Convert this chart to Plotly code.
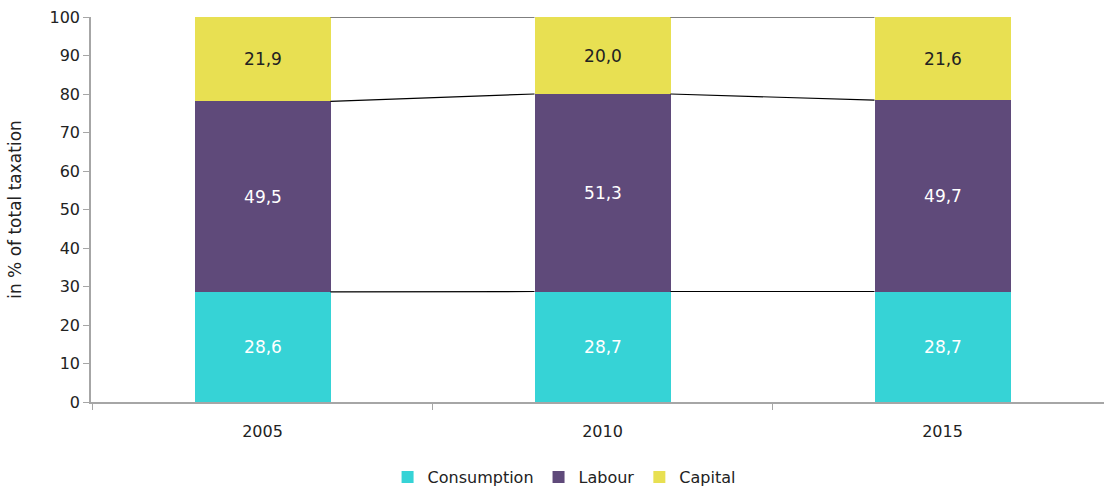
import plotly.graph_objects as go

years = ["2005", "2010", "2015"]
consumption = [28.6, 28.7, 28.7]
labour = [49.5, 51.3, 49.7]
capital = [21.9, 20.0, 21.6]
y_ticks = [0, 10, 20, 30, 40, 50, 60, 70, 80, 90, 100]

colors = {"Consumption": "#36D3D6", "Labour": "#5F4A7A", "Capital": "#E8E052"}
text_colors = {"Consumption": "white", "Labour": "white", "Capital": "#222222"}
FONT = "DejaVu Sans"
BW = 0.4

xs = list(range(len(years)))
fig = go.Figure()
for name, vals in [("Consumption", consumption), ("Labour", labour), ("Capital", capital)]:
    fig.add_trace(go.Bar(
        x=xs, y=vals, name=name, width=BW,
        marker=dict(color=colors[name], line=dict(width=0)),
        text=[f"{v:.1f}".replace(".", ",") for v in vals],
        textposition="inside", insidetextanchor="middle", textangle=0,
        textfont=dict(color=text_colors[name], size=17, family=FONT),
        hoverinfo="skip",
    ))

# series lines between bar tops
levels = []
cum = [0] * len(years)
for vals in (consumption, labour, capital):
    cum = [c + v for c, v in zip(cum, vals)]
    levels.append(list(cum))
for lev in levels:
    for i in range(len(years) - 1):
        fig.add_trace(go.Scatter(
            x=[xs[i] + BW / 2, xs[i + 1] - BW / 2], y=[lev[i], lev[i + 1]],
            mode="lines", line=dict(color="black", width=1.2),
            showlegend=False, hoverinfo="skip",
        ))

r0 = -0.5044
xr = [r0, r0 + 1013 / 340]
fig.update_layout(
    width=1104, height=488,
    margin=dict(l=91, r=0, t=17, b=86, autoexpand=False),
    barmode="stack", bargap=0,
    plot_bgcolor="white", paper_bgcolor="white",
    font=dict(family=FONT, size=16, color="#222222"),
    legend=dict(orientation="h", x=0.467, xanchor="center", y=-0.195, yanchor="middle",
                font=dict(size=16, family=FONT), traceorder="normal",
                itemwidth=30, tracegroupgap=0),
    xaxis=dict(range=xr, tickvals=xs, ticktext=years, ticks="", showline=False,
               showgrid=False, zeroline=False, ticklabelstandoff=18, automargin=False,
               tickfont=dict(size=16, family=FONT)),
    xaxis2=dict(range=xr, overlaying="x", side="bottom", tickvals=[-0.5, 0.5, 1.5, 2.5],
                showticklabels=False, ticks="outside", ticklen=6, tickcolor="#A6A6A6",
                showline=True, linecolor="#A6A6A6", linewidth=1.5, showgrid=False,
                zeroline=False, anchor="y", automargin=False),
    yaxis=dict(range=[0, 100], tickvals=y_ticks, ticks="outside", ticklen=6,
               tickcolor="#A6A6A6", showline=True, linecolor="#A6A6A6", linewidth=1.5,
               showgrid=False, zeroline=False, tickfont=dict(size=16, family=FONT),
               automargin=False,
               title=dict(text="in % of total taxation", font=dict(size=17, family=FONT), standoff=24)),
)
# dummy trace to activate xaxis2
fig.add_trace(go.Scatter(x=[xr[0]], y=[None], xaxis="x2", showlegend=False, hoverinfo="skip"))
fig.write_html("out.html", config={"displayModeBar": False},
               post_script="document.body.style.margin='0';")
